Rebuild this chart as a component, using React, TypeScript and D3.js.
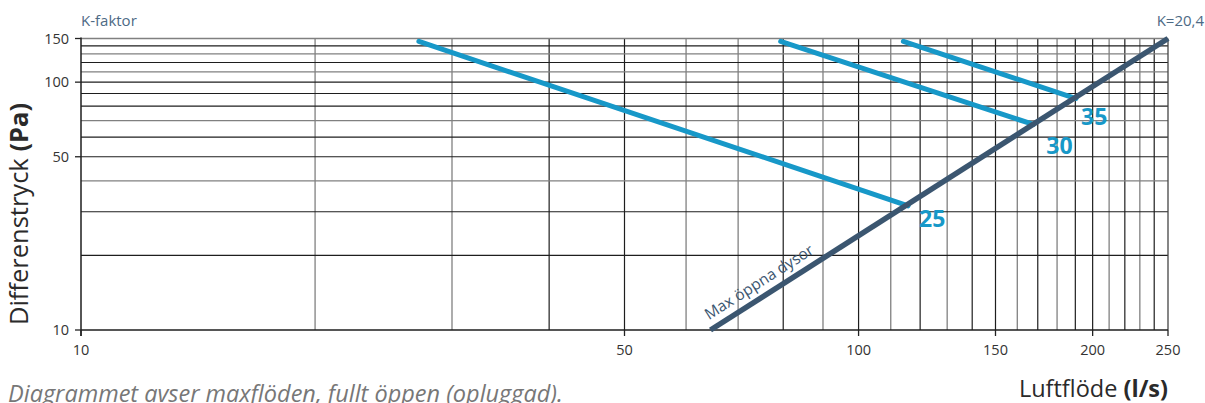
import React from "react";
import * as d3 from "d3";

// ---- data ----
const xTicks = [10, 50, 100, 150, 200, 250];
const yTicks = [10, 50, 100, 150];
const xGridDark = [40, 50, 80, 100, 120, 140, 150, 170, 190, 200, 220, 240];
const xGridLight = [20, 30, 60, 70, 90, 110, 130, 160, 180, 210, 230];
const yGridDark = [20, 30, 50, 60, 80, 90, 100, 120, 140];
const yGridLight = [40, 70, 110, 130];

// Max öppna dysor (K=20,4)
const dysorQ = [64.5, 250];
const dysorP = [10, 150];

// nozzle setting curves: flow (l/s) vs pressure (Pa)
const curveNames = ["25", "30", "35"];
const curve25Q = [27.2, 115.8];
const curve25P = [146, 31.7];
const curve30Q = [79.4, 167.8];
const curve30P = [146, 67.5];
const curve35Q = [114.2, 190.4];
const curve35P = [146, 85.9];

const W = 1205;
const H = 403;
const FONT = "'Open Sans', sans-serif";
const BLUE = "#1798c8";
const DARK = "#3b5670";
const SLATE = "#4d6a85";

const labelOffsets = [
  { dx: 11, dy: 21 },
  { dx: 13, dy: 30 },
  { dx: 5, dy: 26 },
];

export default function App() {
  const x = d3.scaleLog().domain([10, 250]).range([81, 1168]);
  const y = d3.scaleLog().domain([10, 150]).range([330, 38.5]);

  const line = d3
    .line<[number, number]>()
    .x((d) => x(d[0]))
    .y((d) => y(d[1]));

  const curves = [
    curve25Q.map((q, i) => [q, curve25P[i]] as [number, number]),
    curve30Q.map((q, i) => [q, curve30P[i]] as [number, number]),
    curve35Q.map((q, i) => [q, curve35P[i]] as [number, number]),
  ];
  const dysor = dysorQ.map((q, i) => [q, dysorP[i]] as [number, number]);

  const x0 = x.range()[0];
  const x1 = x.range()[1];
  const y0 = y.range()[0];
  const y1 = y.range()[1];

  const ang =
    (Math.atan2(y(dysorP[1]) - y(dysorP[0]), x(dysorQ[1]) - x(dysorQ[0])) * 180) /
    Math.PI;
  const labelQ = 76.2;
  const labelP = 13.95;

  return (
    <svg
      width={W}
      height={H}
      style={{ position: "absolute", left: 0, top: 0, background: "#fff" }}
      fontFamily={FONT}
    >
      <g>
        {xGridLight.map((v) => (
          <line key={"xl" + v} x1={x(v)} x2={x(v)} y1={y1} y2={y0} stroke="#808080" strokeWidth={1.3} />
        ))}
        {xGridDark.map((v) => (
          <line key={"xd" + v} x1={x(v)} x2={x(v)} y1={y1} y2={y0} stroke="#1e1e1e" strokeWidth={1.2} />
        ))}
        {yGridLight.map((v) => (
          <line key={"yl" + v} x1={x0} x2={x1} y1={y(v)} y2={y(v)} stroke="#808080" strokeWidth={1.3} />
        ))}
        {yGridDark.map((v) => (
          <line key={"yd" + v} x1={x0} x2={x1} y1={y(v)} y2={y(v)} stroke="#1e1e1e" strokeWidth={1.2} />
        ))}
        <line x1={x0} x2={x1} y1={y1} y2={y1} stroke="#808080" strokeWidth={1.5} />
        <line x1={x1} x2={x1} y1={y1} y2={y0} stroke="#444" strokeWidth={1.3} />
        <line x1={x0} x2={x0} y1={y1 - 1} y2={y0 + 6} stroke="#1e1e1e" strokeWidth={1.5} />
        <line x1={x0} x2={x1} y1={y0} y2={y0} stroke="#1e1e1e" strokeWidth={1.5} />
      </g>

      <g fontSize={14.5} fill="#333">
        {xTicks.map((v) => (
          <g key={"xt" + v}>
            <line x1={x(v)} x2={x(v)} y1={y0} y2={y0 + 6} stroke="#222" strokeWidth={1.3} />
            <text x={x(v)} y={355} textAnchor="middle">
              {v}
            </text>
          </g>
        ))}
        {yTicks.map((v) => (
          <g key={"yt" + v}>
            <line x1={x0 - 6} x2={x0} y1={y(v)} y2={y(v)} stroke="#222" strokeWidth={1.3} />
            <text x={69} y={y(v)} dy="0.35em" textAnchor="end">
              {v}
            </text>
          </g>
        ))}
      </g>

      {curves.map((c, i) => (
        <path
          key={"c" + i}
          d={line(c) || ""}
          fill="none"
          stroke={BLUE}
          strokeWidth={5}
          strokeLinecap="round"
        />
      ))}
      <path d={line(dysor) || ""} fill="none" stroke={DARK} strokeWidth={5.5} strokeLinecap="butt" />

      {curves.map((c, i) => (
        <text
          key={"l" + i}
          x={x(c[1][0]) + labelOffsets[i].dx}
          y={y(c[1][1]) + labelOffsets[i].dy}
          fill={BLUE}
          fontWeight="bold"
          fontSize={23}
        >
          {curveNames[i]}
        </text>
      ))}

      <text
        transform={`translate(${x(labelQ)},${y(labelP)}) rotate(${ang})`}
        dy={-9}
        textAnchor="middle"
        fontSize={15.5}
        fill={DARK}
      >
        Max öppna dysor
      </text>

      <text x={81} y={26} fontSize={15} fill={SLATE}>
        K-faktor
      </text>
      <text x={1204} y={26} fontSize={15} fill={SLATE} textAnchor="end">
        K=20,4
      </text>

      <text
        transform="translate(28,214) rotate(-90)"
        textAnchor="middle"
        fontSize={25.5}
        fill="#2a2a2a"
      >
        Differenstryck <tspan fontWeight="bold">(Pa)</tspan>
      </text>
      <text x={1168} y={397} textAnchor="end" fontSize={23.5} fill="#2a2a2a">
        Luftflöde <tspan fontWeight="bold">(l/s)</tspan>
      </text>

      <text x={8} y={402} fontSize={23.5} fontStyle="italic" fill="#777">
        Diagrammet avser maxflöden, fullt öppen (opluggad).
      </text>
    </svg>
  );
}
